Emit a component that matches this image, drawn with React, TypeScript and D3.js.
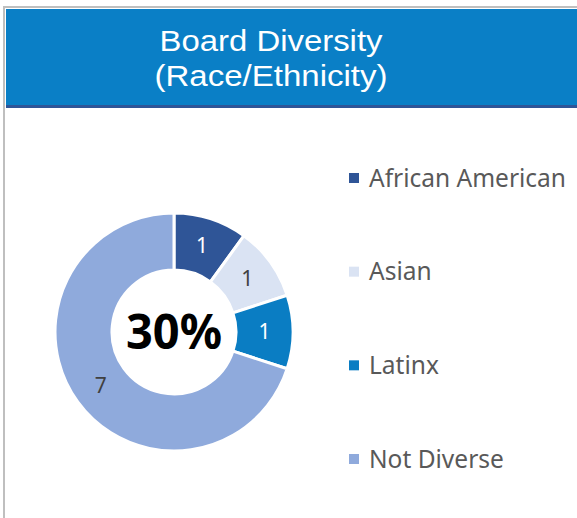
import React from "react";
import * as d3 from "d3";

const categories = ["African American", "Asian", "Latinx", "Not Diverse"];
const values = [1, 1, 1, 7];
const colors = ["#2F5597", "#DAE3F3", "#0A7DC3", "#8FAADC"];
const labelColors = ["#FFFFFF", "#404040", "#FFFFFF", "#404040"];
const titleLines = ["Board Diversity", "(Race/Ethnicity)"];
const titleWidths = [223, 233];
const centerLabel = "30%";

export default function App() {
  const W = 577;
  const H = 518;
  const cx = 174;
  const cy = 332;
  const outerR = 119;
  const innerR = 62;

  const pie = d3.pie<number>().sort(null).value((d) => d);
  const arcs = pie(values);
  const arc = d3.arc<d3.PieArcDatum<number>>().innerRadius(innerR).outerRadius(outerR);
  const labelArc = d3
    .arc<d3.PieArcDatum<number>>()
    .innerRadius((innerR + outerR) / 2)
    .outerRadius((innerR + outerR) / 2);

  const legendY = d3.scalePoint<string>().domain(categories).range([178, 459]);

  return (
    <svg
      width={W}
      height={H}
      style={{ position: "absolute", left: 0, top: 0 }}
      viewBox={`0 0 ${W} ${H}`}
    >
      <rect x={0} y={0} width={W} height={H} fill="#FFFFFF" />
      <rect x={4} y={7} width={W} height={H} fill="none" stroke="#BFBFBF" strokeWidth={2} />
      <rect x={6} y={9} width={W - 6} height={96} fill="#0A7FC6" />
      <rect x={6} y={105} width={W - 6} height={3} fill="#2F5597" />
      {titleLines.map((t, i) => (
        <text
          key={t}
          x={271}
          y={51 + i * 35}
          textAnchor="middle"
          fill="#FFFFFF"
          fontFamily="Liberation Sans, Arial, sans-serif"
          fontSize={30}
          textLength={titleWidths[i]}
          lengthAdjust="spacingAndGlyphs"
        >
          {t}
        </text>
      ))}
      <g transform={`translate(${cx},${cy})`}>
        {arcs.map((a, i) => (
          <path key={i} d={arc(a) || ""} fill={colors[i]} stroke="#FFFFFF" strokeWidth={3} />
        ))}
        {arcs.map((a, i) => {
          const [lx, ly] = labelArc.centroid(a);
          return (
            <text
              key={"l" + i}
              x={lx}
              y={ly}
              dy="0.35em"
              textAnchor="middle"
              fill={labelColors[i]}
              fontFamily="Noto Sans, sans-serif"
              fontSize={21}
            >
              {values[i]}
            </text>
          );
        })}
        <text
          x={0}
          y={0}
          dy="0.36em"
          textAnchor="middle"
          fill="#000000"
          fontFamily="Noto Sans, sans-serif"
          fontWeight="bold"
          fontSize={48}
          textLength={96}
          lengthAdjust="spacingAndGlyphs"
        >
          {centerLabel}
        </text>
      </g>
      {categories.map((c, i) => (
        <g key={c} transform={`translate(0,${legendY(c)})`}>
          <rect x={349} y={-5} width={10} height={10} fill={colors[i]} />
          <text
            x={369}
            y={0}
            dy="0.35em"
            fill="#595959"
            fontFamily="Noto Sans, sans-serif"
            fontSize={24.5}
          >
            {c}
          </text>
        </g>
      ))}
    </svg>
  );
}
